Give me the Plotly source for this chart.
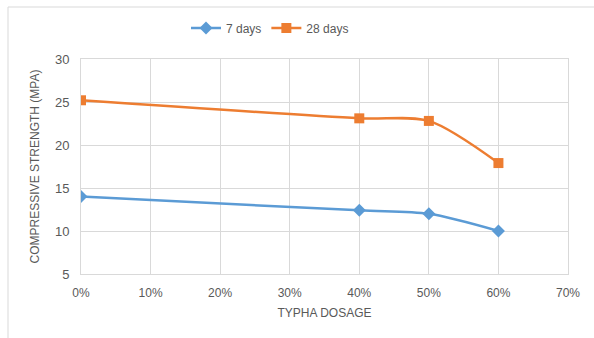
import plotly.graph_objects as go

# Typha dosage (fraction) and compressive strength (MPa)
dosage = [0.0, 0.4, 0.5, 0.6]
strength_7d = [14.0, 12.4, 12.0, 10.0]
strength_28d = [25.2, 23.1, 22.8, 17.9]
series_names = ["7 days", "28 days"]

W, H = 594, 338
L, R, T, B = 81, 26, 59, 64
pw, ph = W - L - R, H - T - B

grid = "#D9D9D9"
txt = "#595959"
font_main = "Liberation Sans Narrow, Arial Narrow, Liberation Sans, Arial, sans-serif"

fig = go.Figure()
fig.add_trace(go.Scatter(
    x=dosage, y=strength_7d, name=series_names[0], mode="lines+markers",
    line=dict(color="#5B9BD5", width=2.5, shape="spline", smoothing=0.8),
    marker=dict(symbol="diamond", size=10, color="#5B9BD5"),
))
fig.add_trace(go.Scatter(
    x=dosage, y=strength_28d, name=series_names[1], mode="lines+markers",
    line=dict(color="#ED7D31", width=2.5, shape="spline", smoothing=0.8),
    marker=dict(symbol="square", size=10, color="#ED7D31"),
))

# outer chart frame
def px_to_paper_x(px):
    return (px - L) / pw

def px_to_paper_y(py):
    return 1 - (py - T) / ph

fig.add_shape(type="rect", xref="paper", yref="paper",
              x0=px_to_paper_x(8), x1=px_to_paper_x(W + 10),
              y0=px_to_paper_y(H + 10), y1=px_to_paper_y(7),
              line=dict(color="#D9D9D9", width=1), fillcolor="rgba(0,0,0,0)", layer="below")

fig.update_layout(
    width=W, height=H,
    margin=dict(l=L, r=R, t=T, b=B, pad=0),
    paper_bgcolor="white", plot_bgcolor="white",
    font=dict(family=font_main, color=txt, size=12),
    legend=dict(orientation="h", x=px_to_paper_x(270), xanchor="center", y=px_to_paper_y(28), yanchor="middle",
                font=dict(size=12, color=txt, family=font_main),
                itemwidth=30, tracegroupgap=0, bgcolor="rgba(0,0,0,0)"),
    xaxis=dict(
        range=[0, 0.7], dtick=0.1, tick0=0, tickformat=".0%",
        showgrid=True, gridcolor=grid, gridwidth=1,
        showline=True, linecolor=grid, mirror=True, zeroline=False,
        ticks="outside", ticklen=8, tickcolor="rgba(0,0,0,0)",
        tickfont=dict(size=12, color=txt, family="Liberation Sans, Arial, sans-serif"),
        title=dict(text="TYPHA DOSAGE", font=dict(size=12, color=txt, family=font_main), standoff=9),
    ),
    yaxis=dict(
        range=[5, 30], dtick=5, tick0=5,
        showgrid=True, gridcolor=grid, gridwidth=1,
        showline=True, linecolor=grid, mirror=True, zeroline=False,
        ticks="outside", ticklen=8, tickcolor="rgba(0,0,0,0)",
        tickfont=dict(size=13, color=txt, family=font_main),
        title=dict(text="COMPRESSIVE STRENGTH (MPA)", font=dict(size=12, color=txt, family=font_main), standoff=12),
    ),
)

fig.write_html("out.html")
